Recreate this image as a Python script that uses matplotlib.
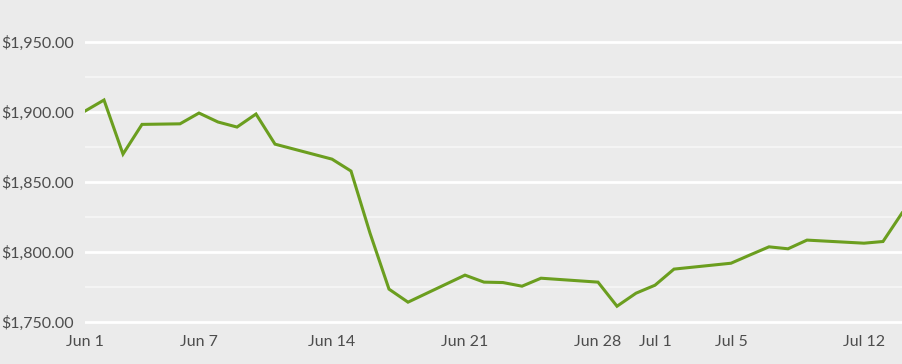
import pandas as pd
import matplotlib.pyplot as plt
import matplotlib.dates as mdates
from matplotlib.ticker import FuncFormatter, MultipleLocator

# gold price, Jun-Jul 2021
dates = ["2021-06-01", "2021-06-02", "2021-06-03", "2021-06-04", "2021-06-06",
         "2021-06-07", "2021-06-08", "2021-06-09", "2021-06-10", "2021-06-11",
         "2021-06-14", "2021-06-15", "2021-06-16", "2021-06-17", "2021-06-18",
         "2021-06-21", "2021-06-22", "2021-06-23", "2021-06-24", "2021-06-25",
         "2021-06-28", "2021-06-29", "2021-06-30", "2021-07-01", "2021-07-02",
         "2021-07-05", "2021-07-06", "2021-07-07", "2021-07-08", "2021-07-09",
         "2021-07-12", "2021-07-13", "2021-07-14"]
price = [1900.7, 1908.6, 1870.0, 1891.2, 1891.6,
         1899.3, 1892.9, 1889.3, 1898.6, 1877.1,
         1866.4, 1857.9, 1813.6, 1773.6, 1764.3,
         1783.6, 1778.6, 1778.3, 1775.7, 1781.4,
         1778.6, 1761.4, 1770.7, 1776.4, 1787.9,
         1792.1, 1798.0, 1803.8, 1802.4, 1808.6,
         1806.4, 1807.6, 1827.9]
tick_dates = ["2021-06-01", "2021-06-07", "2021-06-14", "2021-06-21",
              "2021-06-28", "2021-07-01", "2021-07-05", "2021-07-12"]

x = pd.to_datetime(dates)
ticks = pd.to_datetime(tick_dates)

bg = "#ebebeb"
fig = plt.figure(figsize=(9.02, 3.64), dpi=100, facecolor=bg)
# plot area: 85..902 px wide, 14..325 px tall (1748..1970)
ax = fig.add_axes([85 / 902, 1 - 325 / 364, 817 / 902, 311 / 364])
ax.set_facecolor(bg)

ax.plot(x, price, color="#6b9e1f", lw=2.2, solid_joinstyle="miter", zorder=3)

ax.set_xlim(x[0], x[-1])
ax.set_ylim(1748, 1970)
ax.yaxis.set_major_locator(MultipleLocator(50))
ax.yaxis.set_minor_locator(MultipleLocator(25))
ax.yaxis.set_major_formatter(FuncFormatter(lambda v, p: "${:,.2f}".format(v)))
ax.set_xticks(ticks)
ax.xaxis.set_major_formatter(mdates.DateFormatter("%b %-d"))

ax.grid(axis="y", which="major", color="white", lw=2)
ax.grid(axis="y", which="minor", color="#f4f4f4", lw=1.5)
ax.set_axisbelow(True)
for s in ax.spines.values():
    s.set_visible(False)

ax.tick_params(axis="both", which="both", length=0, labelsize=11.5, labelcolor="#4d4d4d")
ax.tick_params(axis="y", pad=8)
ax.tick_params(axis="x", pad=7)
for lab in ax.get_xticklabels() + ax.get_yticklabels():
    lab.set_family("Lato")

fig.savefig("out.png", dpi=100, facecolor=bg)
